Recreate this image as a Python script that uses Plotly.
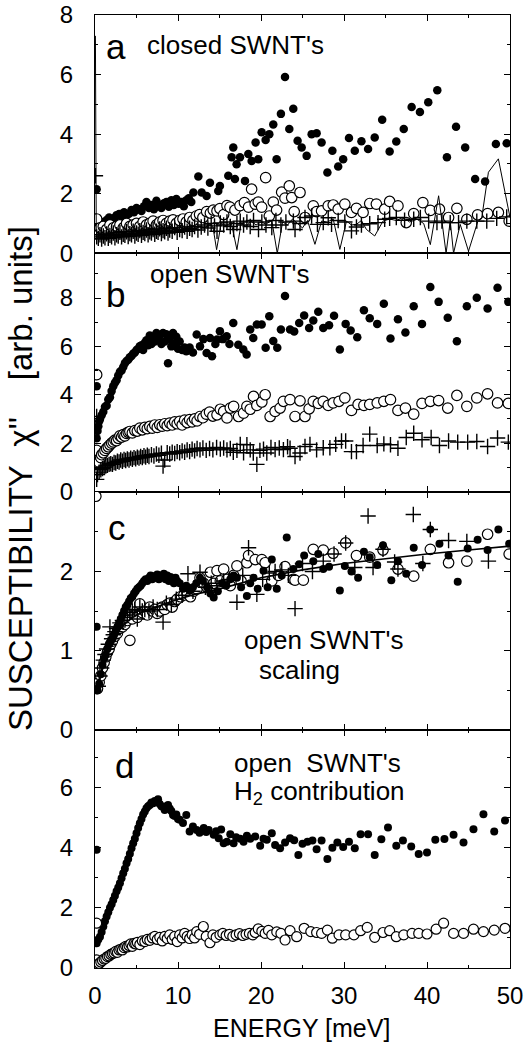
import plotly.graph_objects as go
from plotly.subplots import make_subplots

FONT = "Liberation Sans, Arial, sans-serif"

# ---------------- data (energy meV, susceptibility arb. units) ----------------
# panel a : closed SWNT's
A_FILLED = [(0.2,2.15),(0.5,0.95),(0.8,1.05),(1.1,1.0),(1.4,1.12),(1.7,1.2),(2.0,1.08),(2.3,1.18),(2.6,1.28),
            (2.9,1.32),(3.2,1.22),(3.5,1.38),(3.8,1.28),(4.1,1.33),(4.4,1.45),(4.7,1.38),(5.0,1.52),(5.3,1.48),
            (5.6,1.42),(5.9,1.58),(6.2,1.72),(6.5,1.52),(6.8,1.62),(7.1,1.48),(7.4,1.76),(7.7,1.62),(8.0,1.52),
            (8.3,1.68),(8.6,1.72),(8.9,1.56),(9.2,1.78),(9.5,1.62),(9.8,1.82),(10.1,1.66),(10.4,1.72),(10.7,1.58),
            (11.0,1.78),(11.3,1.85),(11.6,1.72),(11.85,2.04),(12.45,2.58),(12.85,2.04),(13.45,1.92),(13.85,2.37),
            (14.85,2.09),(15.05,2.26),(16.06,2.6),(16.46,3.22),(16.66,3.55),(16.86,2.49),(17.06,2.99),(17.47,3.22),
            (18.07,2.43),(18.47,3.33),(18.87,3.1),(19.35,3.72),(19.67,3.16),(20.08,4.06),(20.56,3.8),(21.0,4.0),
            (21.48,4.32),(21.88,3.16),(22.4,4.68),(22.89,5.92),(23.41,4.17),(23.89,4.85),(24.41,3.78),(24.9,3.55),
            (25.5,3.27),(26.1,4.0),(26.7,4.03),(27.3,3.72),(28.0,2.71),(28.6,3.44),(29.3,2.91),(29.9,3.16),
            (30.6,3.87),(31.3,3.44),(32.1,3.76),(32.9,3.5),(33.7,3.89),(34.6,4.48),(35.5,3.42),(36.3,3.75),
            (37.2,4.17),(38.15,4.91),(39.15,4.74),(40.15,5.07),(41.24,5.47),(42.4,3.22),(43.5,4.25),(44.6,3.55),
            (45.8,2.49),(47.0,2.41),(48.3,3.67),(49.6,3.69)]
A_OPEN = [(0.2,1.15),(0.6,0.85),(1.0,0.9),(1.4,0.8),(1.8,0.95),(2.2,0.85),(2.6,0.9),(3.0,0.95),(3.4,0.85),
          (3.8,1.0),(4.2,0.9),(4.6,0.95),(5.0,1.0),(5.4,0.9),(5.8,1.05),(6.2,0.95),(6.6,1.0),(7.0,1.08),
          (7.4,0.95),(7.8,1.05),(8.2,1.1),(8.6,1.0),(9.0,1.08),(9.4,1.12),(9.8,1.0),(10.2,1.1),(10.6,1.15),
          (11.0,1.05),(11.4,1.2),(11.8,1.1),(12.2,1.25),(12.6,1.3),(13.0,1.2),(13.45,1.4),(13.9,1.35),
          (14.25,1.45),(14.7,1.42),(15.05,1.5),(15.5,1.3),(15.9,1.6),(16.26,1.55),(16.86,1.45),(17.47,1.6),
          (18.0,1.7),(18.5,1.55),(18.87,2.15),(19.3,1.65),(19.67,1.72),(20.08,1.55),(20.56,2.54),(21.0,1.25),
          (21.48,1.72),(21.88,1.45),(22.49,2.05),(22.89,1.85),(23.41,2.26),(23.7,1.87),(24.0,1.4),(24.7,2.04),
          (25.3,1.2),(26.3,1.59),(26.7,1.4),(27.3,1.42),(28.1,1.59),(28.7,1.62),(29.3,1.48),(30.1,1.65),
          (30.9,1.37),(31.5,1.51),(32.3,1.37),(33.1,1.67),(33.9,1.65),(34.9,1.48),(35.5,1.74),(36.5,1.59),
          (37.5,1.03),(38.4,1.33),(39.5,1.7),(40.4,1.44),(41.5,1.48),(42.6,1.2),(43.6,1.51),(44.8,1.14),
          (46.1,1.29),(47.3,1.33),(48.6,1.37),(49.9,1.08)]
A_CROSS = [(0.05,2.6),(0.2,0.55),(0.4,0.5),(0.6,0.62),(0.8,0.48),(1.0,0.58),(1.2,0.52),(1.4,0.65),(1.6,0.5),
           (1.8,0.6),(2.0,0.55),(2.2,0.68),(2.4,0.52),(2.6,0.62),(2.8,0.58),(3.0,0.7),(3.2,0.55),(3.4,0.64),
           (3.6,0.6),(3.8,0.72),(4.0,0.56),(4.2,0.66),(4.4,0.62),(4.6,0.74),(4.8,0.58),(5.0,0.68),(5.2,0.64),
           (5.4,0.76),(5.6,0.6),(5.8,0.7),(6.0,0.66),(6.2,0.78),(6.4,0.62),(6.6,0.72),(6.8,0.68),(7.0,0.8),
           (7.2,0.64),(7.4,0.74),(7.6,0.7),(7.8,0.82),(8.0,0.66),(8.2,0.76),(8.4,0.72),(8.6,0.84),(8.8,0.68),
           (9.0,0.78),(9.3,0.74),(9.6,0.86),(9.9,0.7),(10.2,0.8),(10.5,0.76),(10.8,0.88),(11.1,0.74),(11.4,0.84),
           (11.7,0.8),(12.0,0.9),(12.4,0.78),(12.8,0.88),(13.2,0.95),(13.6,0.85),(14.0,1.0),(14.4,0.92),
           (14.7,0.74),(15.1,1.02),(15.5,0.95),(15.9,1.05),(16.3,0.9),(16.7,0.8),(17.1,1.0),(17.5,1.08),
           (17.9,0.95),(18.3,1.05),(18.7,0.9),(19.1,1.1),(19.7,0.8),(20.1,1.05),(20.6,0.95),(21.3,0.86),
           (21.8,1.1),(22.4,0.95),(23.0,1.05),(23.9,1.08),(24.1,0.8),(24.7,1.0),(25.3,1.2),(26.1,1.25),
           (26.8,0.97),(27.5,1.03),(28.1,1.19),(28.5,0.97),(29.3,1.1),(30.1,1.05),(30.9,0.75),(31.5,0.88),
           (32.1,0.95),(33.1,0.99),(34.1,1.03),(34.9,1.14),(35.5,1.17),(36.3,1.2),(37.3,1.11),(38.4,1.14),
           (39.2,1.2),(40.2,1.08),(41.2,1.03),(41.8,1.08),(42.8,1.03),(43.8,1.03),(44.8,1.08),(46.0,1.08),
           (47.2,1.08),(48.4,1.17),(49.6,1.22)]
A_LINE = [(0.05,7.3),(0.15,0.75),(0.5,0.6),(1.0,0.55),(1.5,0.65),(2.0,0.5),(2.5,0.62),(3.0,0.58),(3.5,0.68),
          (4.0,0.55),(4.5,0.7),(5.0,0.62),(5.5,0.72),(6.0,0.6),(6.5,0.75),(7.0,0.66),(7.5,0.78),(8.0,0.65),
          (8.5,0.8),(9.0,0.7),(9.5,0.82),(10.0,0.7),(10.5,0.85),(11.0,0.75),(11.5,0.88),(12.0,0.8),(12.6,0.9),
          (13.2,0.85),(13.8,0.98),(14.2,0.9),(14.65,0.12),(15.2,1.0),(15.8,0.92),(16.4,1.05),(17.1,0.12),
          (17.6,1.0),(18.2,0.9),(18.8,1.08),(19.4,0.95),(20.0,1.05),(20.6,0.98),(21.3,1.1),(21.96,0.0),
          (22.6,1.05),(23.2,0.95),(23.8,1.15),(24.4,1.0),(25.0,0.85),(25.6,1.1),(26.5,0.3),(27.3,1.08),
          (28.0,1.05),(28.7,1.15),(29.5,0.13),(30.3,1.08),(30.9,0.95),(31.5,0.97),(32.1,1.1),(32.7,0.8),
          (33.7,0.58),(34.7,1.08),(35.5,1.15),(36.3,1.1),(37.1,1.2),(37.9,1.05),(38.8,1.14),(39.6,1.0),
          (40.4,0.29),(41.4,1.93),(42.3,0.0),(42.8,1.08),(43.2,0.0),(44.0,0.97),(45.0,0.07),(46.1,1.05),
          (46.6,1.2),(47.4,2.72),(48.6,3.17),(50.0,1.2)]

# panel b : open SWNT's
B_FILLED = [(0.2,4.35),(0.2,2.2),(0.3,2.5),(0.4,2.7),(0.5,2.9),(0.6,3.0),(0.8,3.15),(1.0,3.3),(1.2,3.5),
            (1.4,3.55),(1.6,3.8),(1.8,3.9),(2.0,4.15),(2.2,4.35),(2.4,4.5),(2.6,4.6),(2.8,4.8),(3.0,4.95),
            (3.2,5.0),(3.4,5.15),(3.6,5.3),(3.8,5.4),(4.0,5.45),(4.2,5.55),(4.4,5.6),(4.6,5.7),(4.8,5.75),
            (5.0,5.85),(5.2,5.9),(5.4,6.0),(5.6,6.05),(5.8,5.85),(6.0,6.15),(6.2,6.25),(6.4,6.05),(6.6,6.45),
            (6.8,6.1),(7.0,6.4),(7.2,6.2),(7.4,6.55),(7.6,6.3),(7.8,6.45),(8.0,6.1),(8.2,6.55),(8.4,6.2),
            (8.6,6.5),(8.8,5.3),(9.0,6.3),(9.2,6.0),(9.4,6.55),(9.6,6.1),(9.8,6.4),(10.0,5.9),(10.2,6.2),
            (10.5,5.85),(10.8,5.95),(11.0,5.8),(11.4,5.95),(11.8,5.75),(12.25,6.49),(12.65,6.0),(13.05,6.3),
            (13.45,5.73),(13.85,6.35),(14.1,5.59),(14.5,6.1),(14.7,6.28),(15.05,6.63),(15.4,6.3),(15.86,6.42),
            (16.2,6.1),(16.66,6.97),(17.26,6.07),(17.87,5.87),(18.27,5.66),(18.7,6.7),(19.07,6.35),(19.5,6.9),
            (20.08,6.9),(20.56,5.94),(21.0,7.25),(21.48,6.22),(21.96,5.94),(22.4,6.7),(22.89,8.08),(23.5,6.7),
            (24.0,6.62),(24.6,6.97),(25.2,7.28),(25.8,6.76),(26.3,7.07),(26.9,7.43),(27.5,6.76),(28.2,6.87),
            (28.8,7.27),(29.5,5.87),(30.2,6.93),(30.8,6.66),(31.6,6.38),(32.4,7.49),(33.1,7.16),(34.0,6.93),
            (34.8,7.76),(35.6,6.33),(36.5,7.12),(37.4,6.57),(38.4,7.66),(39.4,6.93),(40.4,8.45),(41.4,7.84),
            (42.5,7.18),(43.6,6.21),(44.8,7.66),(46.0,8.01),(47.3,7.57),(48.5,8.42),(49.8,7.84)]
B_OPEN = [(0.2,4.83),(0.2,1.7),(0.3,0.9),(0.5,1.2),(0.7,1.4),(0.8,1.52),(1.0,1.6),(1.2,1.7),(1.4,1.78),
          (1.6,1.85),(1.8,1.93),(2.0,2.0),(2.2,2.05),(2.4,2.12),(2.6,2.1),(2.8,2.2),(3.0,2.3),(3.2,2.25),
          (3.4,2.35),(3.6,2.3),(3.8,2.4),(4.0,2.45),(4.2,2.48),(4.5,2.42),(4.8,2.52),(5.1,2.5),(5.4,2.62),
          (5.7,2.55),(6.0,2.65),(6.3,2.6),(6.6,2.69),(6.9,2.62),(7.2,2.75),(7.5,2.65),(7.8,2.76),(8.1,2.7),
          (8.4,2.8),(8.7,2.72),(9.0,2.83),(9.3,2.75),(9.6,2.88),(9.9,2.8),(10.2,2.9),(10.5,2.75),(10.8,2.95),
          (11.1,2.85),(11.4,2.97),(11.7,2.88),(12.0,3.0),(12.3,2.92),(12.65,3.1),(13.0,3.05),(13.4,3.2),
          (13.8,3.28),(14.2,3.12),(14.7,3.17),(15.1,3.4),(15.5,3.31),(15.9,3.04),(16.3,3.45),(16.7,3.52),
          (17.3,3.1),(17.9,3.24),(18.3,3.52),(18.7,3.4),(19.1,3.93),(19.5,3.56),(20.1,3.7),(20.5,4.0),
          (21.1,3.1),(21.7,3.31),(22.3,3.45),(22.7,3.73),(23.5,3.8),(24.1,3.1),(24.7,3.75),(25.3,3.1),
          (25.8,3.42),(26.3,3.73),(26.9,3.64),(27.5,3.73),(28.1,3.56),(28.7,3.66),(29.4,3.73),(30.1,3.87),
          (30.9,3.35),(31.7,3.6),(32.4,3.56),(33.1,3.6),(34.0,3.66),(34.8,3.73),(35.6,3.8),(36.5,3.35),
          (37.4,3.45),(38.4,3.2),(39.4,3.64),(40.4,3.73),(41.4,3.76),(42.5,3.45),(43.6,3.97),(44.8,3.52),
          (46.0,3.87),(47.3,4.04),(48.5,3.66),(49.8,3.64)]
B_CROSS = [(0.2,0.5),(0.2,3.1),(0.3,0.7),(0.5,0.8),(0.7,0.9),(0.9,0.95),(1.1,1.0),(1.3,1.05),(1.5,1.08),
           (1.7,1.12),(1.9,1.15),(2.1,1.12),(2.3,1.2),(2.5,1.18),(2.7,1.25),(2.9,1.22),(3.1,1.3),(3.3,1.25),
           (3.5,1.32),(3.7,1.28),(3.9,1.35),(4.1,1.3),(4.3,1.38),(4.5,1.33),(4.7,1.4),(4.9,1.35),(5.1,1.42),
           (5.3,1.38),(5.5,1.45),(5.7,1.4),(5.9,1.48),(6.1,1.42),(6.3,1.5),(6.5,1.45),(6.8,1.52),(7.1,1.47),
           (7.4,1.55),(7.7,1.5),(8.0,1.58),(8.2,1.05),(8.4,1.3),(8.7,1.6),(9.0,1.55),(9.3,1.62),(9.6,1.57),
           (9.9,1.65),(10.2,1.6),(10.5,1.68),(10.8,1.62),(11.1,1.72),(11.4,1.65),(11.7,1.75),(12.0,1.68),
           (12.3,1.78),(12.65,1.72),(13.0,1.8),(13.4,1.7),(13.8,1.78),(14.2,1.72),(14.65,1.82),(15.1,1.75),
           (15.5,1.8),(15.9,1.72),(16.3,1.78),(16.66,1.62),(17.1,1.7),(17.5,1.95),(17.9,1.6),(18.3,1.93),
           (18.7,1.72),(19.07,1.59),(19.5,1.12),(19.87,1.7),(20.3,1.75),(20.7,1.59),(21.2,1.82),(21.7,1.73),
           (22.2,1.8),(22.7,1.73),(23.2,1.85),(23.5,1.79),(24.1,1.45),(24.7,1.59),(25.3,1.86),(25.9,1.95),
           (26.7,1.72),(27.5,1.81),(28.3,1.81),(29.0,1.95),(29.7,2.09),(30.2,2.09),(30.9,1.65),(31.5,1.65),
           (32.3,1.9),(33.1,2.37),(34.0,1.9),(34.8,1.97),(35.6,1.93),(36.5,1.79),(37.5,2.23),(38.4,2.41),
           (39.4,2.14),(40.5,2.23),(41.5,1.9),(42.6,2.09),(43.7,2.04),(44.9,2.04),(46.0,2.07),(47.3,1.86),
           (48.5,2.21),(49.8,2.04)]

# panel c : open SWNT's, scaling
C_FILLED = [(0.2,1.3),(0.3,0.5),(0.5,0.58),(0.7,0.7),(0.9,0.82),(1.1,0.9),(1.3,0.95),(1.5,1.02),(1.7,1.08),
            (1.9,1.12),(2.1,1.15),(2.3,1.2),(2.5,1.25),(2.7,1.3),(2.9,1.35),(3.1,1.4),(3.3,1.45),(3.5,1.5),
            (3.7,1.55),(3.9,1.58),(4.1,1.62),(4.3,1.66),(4.5,1.68),(4.7,1.72),(4.9,1.75),(5.1,1.78),(5.3,1.8),
            (5.5,1.82),(5.7,1.85),(5.9,1.88),(6.1,1.9),(6.3,1.88),(6.5,1.92),(6.7,1.95),(6.9,1.9),(7.1,1.94),
            (7.3,1.92),(7.5,1.96),(7.7,1.9),(7.9,1.95),(8.1,1.93),(8.3,1.97),(8.5,1.9),(8.7,1.95),(8.9,1.88),
            (9.1,1.93),(9.3,1.9),(9.5,1.85),(9.7,1.92),(9.9,1.88),(10.2,1.85),(10.6,1.78),(11.0,1.82),
            (11.4,1.76),(11.8,1.8),(12.2,1.85),(12.65,1.92),(13.0,1.88),(13.5,1.8),(13.9,1.72),(14.3,1.67),
            (14.8,1.75),(15.3,1.85),(15.8,1.82),(16.3,1.9),(16.7,1.95),(17.1,1.92),(17.6,1.8),(18.3,1.69),
            (18.7,1.85),(19.1,1.92),(19.6,1.78),(20.3,2.01),(20.8,1.8),(21.3,2.15),(21.9,1.78),(22.5,1.95),
            (23.1,2.43),(23.9,2.03),(24.6,2.09),(25.2,2.2),(26.3,2.13),(26.9,2.22),(27.5,2.03),(28.2,2.06),
            (29.5,1.76),(30.1,2.07),(30.9,2.0),(31.7,1.92),(32.4,2.25),(33.1,2.18),(34.0,2.08),(34.7,2.33),
            (35.7,1.89),(36.5,2.13),(37.5,1.97),(38.4,2.3),(39.4,2.08),(40.4,2.53),(41.5,2.35),(42.6,2.2),
            (43.7,1.87),(44.9,2.29),(46.1,2.4),(47.3,2.27),(48.6,2.53),(49.9,2.35)]
C_OPEN = [(0.1,2.95),(0.3,0.52),(0.5,0.6),(0.7,0.68),(0.9,0.78),(1.1,0.85),(1.3,0.92),(1.5,0.98),(1.7,1.02),
          (1.9,1.08),(2.1,1.12),(2.4,1.18),(2.7,1.22),(3.0,1.28),(3.3,1.3),(3.6,1.33),(3.9,1.38),(4.2,1.13),
          (4.5,1.4),(4.8,1.45),(5.1,1.42),(5.4,1.59),(5.7,1.48),(6.0,1.5),(6.3,1.45),(6.6,1.55),(6.9,1.5),
          (7.2,1.52),(7.5,1.47),(7.8,1.5),(8.1,1.55),(8.4,1.52),(8.7,1.58),(9.0,1.6),(9.3,1.55),(9.6,1.62),
          (9.9,1.65),(10.3,1.68),(10.7,1.7),(11.1,1.72),(11.5,1.68),(11.9,1.75),(12.3,1.78),(12.65,1.92),
          (13.1,1.85),(13.5,1.8),(13.9,1.99),(14.3,1.85),(14.7,2.01),(15.1,1.88),(15.5,2.03),(15.9,1.9),
          (16.3,1.82),(16.7,1.95),(17.1,2.07),(17.6,1.88),(18.3,2.11),(18.5,2.2),(19.3,2.15),(20.1,2.15),
          (20.5,2.11),(21.3,1.88),(22.1,1.95),(22.9,2.06),(23.9,1.9),(24.1,1.89),(25.1,1.89),(26.3,2.28),
          (27.5,2.27),(28.7,2.23),(30.2,2.36),(31.5,2.2),(33.1,2.18),(34.7,2.27),(36.5,2.03),(38.4,1.94),
          (40.4,2.28),(42.6,2.11),(44.8,2.13),(47.3,2.47),(49.9,2.22)]
C_CROSS = [(0.4,0.55),(0.6,0.68),(0.8,0.78),(1.0,0.88),(1.2,0.95),(1.4,1.02),(1.6,1.08),(1.8,1.3),(2.0,1.15),
           (2.2,1.2),(2.4,1.24),(2.6,1.28),(2.8,1.3),(3.0,1.35),(3.3,1.38),(3.6,1.42),(3.9,1.45),(4.2,1.48),
           (4.5,1.5),(4.8,1.52),(5.1,1.4),(5.4,1.55),(5.7,1.5),(6.0,1.52),(6.5,1.5),(7.0,1.55),(7.5,1.52),
           (8.2,1.36),(8.6,1.6),(9.2,1.58),(9.8,1.65),(10.5,1.7),(11.2,1.97),(11.8,1.75),(12.65,1.99),
           (13.3,1.8),(14.0,1.85),(14.7,1.82),(15.5,1.88),(16.2,1.9),(17.1,1.61),(17.8,1.95),(18.5,2.3),
           (19.5,1.71),(20.2,1.9),(21.0,1.98),(21.7,2.0),(22.5,2.02),(23.3,1.95),(24.1,1.53),(25.0,2.1),
           (26.2,2.0),(27.5,2.13),(28.8,2.22),(30.2,2.36),(31.3,2.05),(32.9,2.7),(33.5,2.05),(34.7,2.28),
           (36.1,2.12),(36.5,2.03),(38.35,2.72),(39.5,2.1),(40.4,2.53),(42.6,2.39),(44.8,2.38),(47.4,2.13)]
C_FIT = [(0.3,0.5),(0.6,0.65),(1.0,0.8),(1.5,0.97),(2.0,1.1),(3.0,1.27),(4.0,1.38),(5.0,1.45),(6.0,1.5),
         (8.0,1.58),(10.0,1.65),(12.0,1.71),(15.0,1.78),(20.0,1.92),(25.0,2.02),(30.0,2.1),(35.0,2.16),
         (40.0,2.22),(45.0,2.27),(50.0,2.32)]

# panel d : open SWNT's, H2 contribution
D_FILLED = [(0.2,3.93),(0.2,0.82),(0.4,0.95),(0.6,1.04),(0.8,1.2),(1.0,1.38),(1.2,1.55),(1.4,1.71),(1.6,1.85),
            (1.8,2.0),(2.0,2.12),(2.2,2.26),(2.4,2.4),(2.6,2.55),(2.8,2.68),(3.0,2.82),(3.2,2.98),(3.4,3.15),
            (3.6,3.3),(3.8,3.48),(4.0,3.62),(4.2,3.8),(4.4,3.98),(4.6,4.15),(4.8,4.3),(5.0,4.48),(5.2,4.65),
            (5.4,4.81),(5.6,4.95),(5.8,5.1),(6.0,5.2),(6.2,5.31),(6.4,5.38),(6.6,5.42),(6.8,5.5),(7.0,5.48),
            (7.2,5.55),(7.4,5.52),(7.6,5.61),(7.8,5.45),(8.0,5.38),(8.2,5.35),(8.4,5.25),(8.6,5.38),(8.8,5.42),
            (9.0,5.3),(9.2,5.22),(9.4,5.09),(9.6,5.05),(9.8,5.1),(10.0,4.95),(10.2,4.93),(10.6,4.82),(11.0,5.09),
            (11.4,4.54),(11.8,4.7),(12.25,4.59),(12.6,4.5),(13.1,4.65),(13.4,4.52),(13.7,4.59),(14.3,4.43),
            (14.6,4.55),(14.9,4.31),(15.2,4.6),(15.5,4.15),(15.9,4.2),(16.3,4.45),(16.7,4.15),(17.0,4.35),
            (17.5,4.3),(17.9,4.2),(18.3,4.4),(18.7,4.3),(19.3,4.37),(19.9,4.06),(20.3,4.3),(20.7,4.26),
            (21.3,4.48),(21.7,4.09),(22.3,3.98),(22.9,4.17),(23.5,4.31),(24.0,4.25),(24.5,3.76),(25.0,4.13),
            (25.6,4.2),(26.2,4.24),(26.7,3.95),(27.3,4.24),(28.0,3.62),(28.6,4.0),(29.2,4.17),(29.9,4.02),
            (30.6,4.2),(31.3,3.98),(32.0,4.45),(32.9,4.45),(33.7,3.76),(34.5,4.28),(35.3,4.67),(36.3,4.06),
            (37.1,4.24),(38.1,4.04),(39.0,3.79),(40.0,3.84),(41.0,4.26),(42.1,4.29),(43.2,4.43),(44.4,4.17),
            (45.6,4.61),(46.8,5.11),(48.1,4.54),(49.4,4.9)]
D_OPEN = [(0.2,1.49),(0.2,0.27),(0.3,0.1),(0.5,0.15),(0.7,0.2),(0.9,0.25),(1.1,0.3),(1.3,0.32),(1.5,0.38),
          (1.7,0.4),(1.9,0.45),(2.1,0.48),(2.3,0.5),(2.5,0.55),(2.7,0.52),(2.9,0.6),(3.1,0.62),(3.3,0.6),
          (3.5,0.68),(3.7,0.72),(3.9,0.7),(4.1,0.75),(4.3,0.8),(4.5,0.72),(4.7,0.82),(4.9,0.8),(5.1,0.85),
          (5.4,0.78),(5.7,0.9),(6.0,0.88),(6.3,0.95),(6.6,0.92),(6.9,1.0),(7.2,1.05),(7.5,0.95),(7.8,1.02),
          (8.1,0.9),(8.4,1.05),(8.7,0.98),(9.0,1.1),(9.3,0.95),(9.6,1.05),(9.9,0.88),(10.2,1.1),(10.5,1.0),
          (10.8,1.15),(11.1,1.05),(11.4,0.98),(11.7,1.1),(12.0,1.0),(12.25,1.21),(12.6,1.12),(13.05,1.38),
          (13.4,1.05),(13.85,0.84),(14.2,1.1),(14.6,1.02),(15.05,1.1),(15.4,1.15),(15.8,1.08),(16.2,1.12),
          (16.6,1.05),(17.0,1.1),(17.4,1.14),(17.8,1.08),(18.2,1.12),(18.6,1.15),(19.0,1.1),(19.3,1.18),
          (19.67,1.3),(20.1,1.22),(20.5,1.15),(20.9,1.25),(21.3,1.1),(21.9,1.2),(22.4,1.15),(22.9,0.93),
          (23.5,1.24),(24.3,1.04),(25.2,1.32),(26.0,1.21),(26.7,1.18),(27.3,1.15),(28.0,1.26),(28.6,0.99),
          (29.4,1.1),(30.2,1.1),(31.2,1.1),(32.0,1.24),(32.8,1.35),(33.7,1.02),(34.7,1.18),(35.5,1.24),
          (36.3,1.04),(37.2,1.1),(38.2,1.15),(39.0,1.15),(40.0,1.13),(41.1,1.29),(42.0,1.49),(43.2,1.15),
          (44.4,1.15),(45.6,1.29),(46.8,1.21),(48.1,1.26),(49.4,1.32)]

X_RANGE = [0, 50]
X_TICKS = [0, 10, 20, 30, 40, 50]
X_MINOR = [5, 15, 25, 35, 45]
Y_RANGES = [[0, 8], [0, 9.85], [0, 3.01], [0, 7.92]]
Y_TICKS = [[0, 2, 4, 6, 8], [0, 2, 4, 6, 8], [0, 1, 2], [0, 2, 4, 6]]
Y_MINOR = [[1, 3, 5, 7], [1, 3, 5, 7, 9], [0.5, 1.5, 2.5], [1, 3, 5, 7]]

# ---------------- figure ----------------
fig = make_subplots(rows=4, cols=1, vertical_spacing=0)


def xs(pts):
    return [p[0] for p in pts]


def ys(pts):
    return [p[1] for p in pts]


def filled(pts, row, size=8.5):
    fig.add_trace(go.Scatter(x=xs(pts), y=ys(pts), mode="markers",
                             marker=dict(symbol="circle", size=size, color="black", line=dict(width=0)),
                             showlegend=False, hoverinfo="skip"), row=row, col=1)


def opened(pts, row, size=10.5):
    fig.add_trace(go.Scatter(x=xs(pts), y=ys(pts), mode="markers",
                             marker=dict(symbol="circle", size=size, color="white",
                                         line=dict(width=1.2, color="black")),
                             showlegend=False, hoverinfo="skip"), row=row, col=1)


def crossed(pts, row, size=11):
    fig.add_trace(go.Scatter(x=xs(pts), y=ys(pts), mode="markers",
                             marker=dict(symbol="cross-thin", size=size, color="black",
                                         line=dict(width=1.4, color="black")),
                             showlegend=False, hoverinfo="skip"), row=row, col=1)


def lined(pts, row, width=1.0):
    fig.add_trace(go.Scatter(x=xs(pts), y=ys(pts), mode="lines",
                             line=dict(color="black", width=width),
                             showlegend=False, hoverinfo="skip"), row=row, col=1)


# panel a
filled(A_FILLED, 1)
opened(A_OPEN, 1)
crossed(A_CROSS, 1)
lined(A_LINE, 1, 1.0)
# panel b
filled(B_FILLED, 2)
opened(B_OPEN, 2)
crossed(B_CROSS, 2)
# panel c
opened(C_OPEN, 3)
filled(C_FILLED, 3, 8)
crossed(C_CROSS, 3, 11)
lined(C_FIT, 3, 1.6)
# panel d
filled(D_FILLED, 4, 8)
opened(D_OPEN, 4, 10)

axis_common = dict(showline=True, linecolor="black", linewidth=1, mirror="allticks",
                   ticks="inside", ticklen=6, tickwidth=1, tickcolor="black",
                   showgrid=False, zeroline=False, automargin=False,
                   tickfont=dict(family=FONT, size=24, color="black"))

for r in range(1, 5):
    fig.update_xaxes(range=X_RANGE, tickmode="array", tickvals=X_TICKS,
                     minor=dict(ticks="inside", ticklen=3, tickwidth=1, tickcolor="black",
                                tickmode="array", tickvals=X_MINOR, showgrid=False),
                     showticklabels=(r == 4), ticklabelstandoff=6, row=r, col=1, **axis_common)
    fig.update_yaxes(range=Y_RANGES[r - 1], tickmode="array", tickvals=Y_TICKS[r - 1],
                     minor=dict(ticks="inside", ticklen=3, tickwidth=1, tickcolor="black",
                                tickmode="array", tickvals=Y_MINOR[r - 1], showgrid=False),
                     ticklabelstandoff=16, row=r, col=1, **axis_common)

ann = []
LETTER = dict(family=FONT, size=35, color="black")
LABEL = dict(family=FONT, size=26, color="black")


def text(x, y, s, ref, font, xanchor="left"):
    ann.append(dict(x=x, y=y, xref="x" + ref, yref="y" + ref, text=s, showarrow=False,
                    xanchor=xanchor, yanchor="middle", font=font))


text(2.5, 6.93, "a", "", LETTER, "center")
text(6.0, 7.0, "closed SWNT's", "", LABEL)
text(2.5, 8.16, "b", "2", LETTER, "center")
text(6.4, 8.98, "open SWNT's", "2", LABEL)
text(2.65, 2.55, "c", "3", LETTER, "center")
text(17.7, 1.13, "open SWNT's", "3", LABEL)
text(19.5, 0.75, "scaling", "3", LABEL)
text(3.5, 6.72, "d", "4", LETTER, "center")
text(16.5, 6.82, "open\u00a0\u00a0SWNT's", "4", LABEL)
text(16.5, 5.82, "H<sub>2</sub> contribution", "4", LABEL)

ann.append(dict(x=-0.181, y=0.514, xref="paper", yref="paper",
                text="SUSCEPTIBILITY\u00a0\u00a0\u03c7''\u00a0\u00a0\u00a0\u00a0[arb. units]",
                textangle=-90, showarrow=False, xanchor="center", yanchor="middle",
                font=dict(family=FONT, size=33, color="black")))
ann.append(dict(x=0.4976, y=-0.063, xref="paper", yref="paper", text="ENERGY [meV]",
                showarrow=False, xanchor="center", yanchor="middle",
                font=dict(family=FONT, size=25, color="black")))

fig.update_layout(width=525, height=1047, margin=dict(l=95, r=15, t=15, b=79),
                  paper_bgcolor="white", plot_bgcolor="white", showlegend=False,
                  annotations=ann, font=dict(family=FONT, color="black"))

# pin the figure to the page's top-left corner (no default body margin)
PIN = ("document.body.style.margin='0';"
       "var d=document.getElementById('{plot_id}');"
       "d.style.position='absolute';d.style.left='0px';d.style.top='0px';")
fig.write_html("out.html", post_script=PIN, config={"displayModeBar": False})
